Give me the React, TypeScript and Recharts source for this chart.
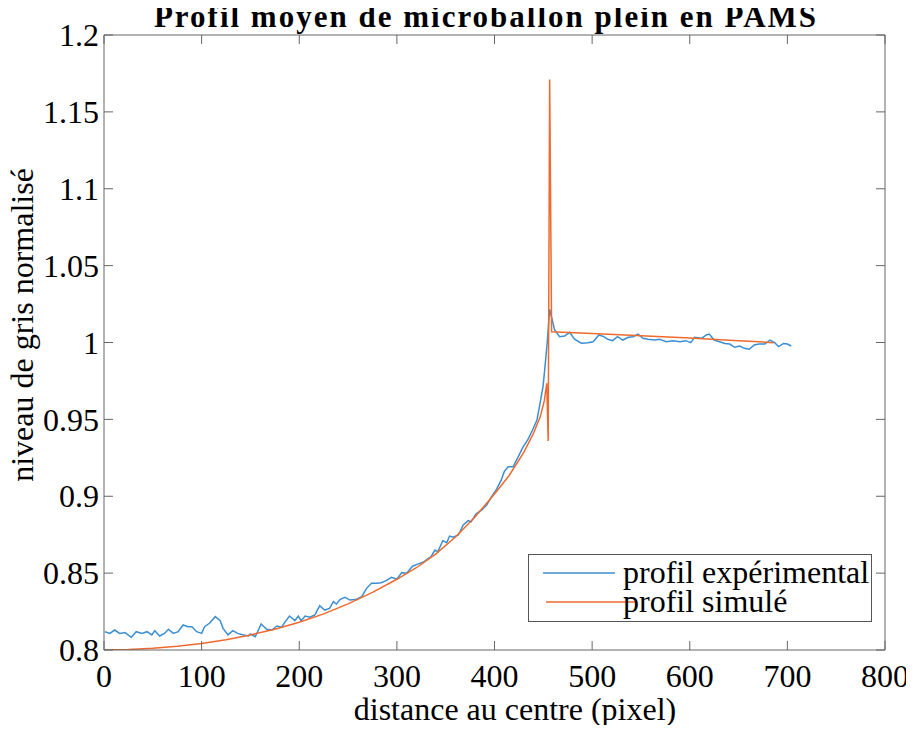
import { Line, LineChart, XAxis, YAxis } from "recharts";

const expDistance = [
  1, 6, 11, 16, 21.5, 28, 33, 39, 44, 49, 52, 57, 62, 66, 71, 76, 81, 86, 90, 95, 100, 103, 108, 114, 119, 122,
  127, 132, 137, 143, 148, 150, 155, 161, 166.5, 172, 177, 182, 185, 190, 195.5, 199, 202, 206, 211, 216, 221,
  226, 231, 235, 238, 242, 247, 252, 259, 264, 269, 274, 279, 284, 289, 294.5, 300, 305, 310, 316, 322, 328, 331,
  335, 339, 342, 347, 351, 354, 357.5, 363, 368, 373, 376, 381, 387, 392, 397, 402, 407, 410, 414, 419, 424, 429,
  434, 439, 443.5, 446, 449.7, 451.4, 454, 456.5, 461.6, 466.7, 471.8, 477, 482, 489, 495.7, 501, 507, 512, 516,
  521, 526, 531.5, 537, 542, 547, 552, 557, 564, 569, 576, 583, 590, 596, 601, 605, 612, 617, 620, 625, 630.5,
  636, 641, 646, 651, 656, 661, 666, 671, 677, 682, 687, 691, 696, 700, 704,
];
const expLevel = [
  0.8119, 0.8108, 0.813, 0.8108, 0.8113, 0.8083, 0.8119, 0.8108, 0.8119, 0.8098, 0.8126, 0.8091, 0.8108, 0.8135,
  0.8108, 0.8119, 0.8163, 0.8152, 0.8152, 0.8119, 0.8108, 0.8152, 0.8174, 0.8217, 0.8191, 0.8141, 0.8098, 0.8126,
  0.8108, 0.8098, 0.8091, 0.8104, 0.8087, 0.8169, 0.8135, 0.813, 0.8156, 0.8148, 0.8178, 0.8221, 0.8191, 0.8221,
  0.8191, 0.8221, 0.8213, 0.8228, 0.8288, 0.826, 0.8271, 0.8314, 0.8299, 0.833, 0.8343, 0.8325, 0.833, 0.8347,
  0.8401, 0.8434, 0.8434, 0.8438, 0.8451, 0.8473, 0.846, 0.8503, 0.8499, 0.8545, 0.856, 0.8575, 0.859, 0.8607,
  0.865, 0.8639, 0.8711, 0.8698, 0.8741, 0.8733, 0.8748, 0.8813, 0.8841, 0.8834, 0.8885, 0.8911, 0.8943, 0.8997,
  0.9045, 0.9106, 0.916, 0.9192, 0.9192, 0.9253, 0.9318, 0.9366, 0.9431, 0.9496, 0.9582, 0.9713, 0.982, 1.0,
  1.0216, 1.0081, 1.0038, 1.0042, 1.0066, 1.0021, 0.9995, 0.9999, 1.0005, 1.0049, 1.0038, 1.0021, 1.0012, 1.0038,
  1.0016, 1.0034, 1.0038, 1.0055, 1.0027, 1.0021, 1.0016, 1.0021, 1.0005, 1.0012, 1.0005, 1.0012, 0.9999, 1.0034,
  1.0027, 1.0049, 1.0055, 1.0016, 1.0005, 0.9994, 0.999, 0.9969, 0.9977, 0.9962, 0.9956, 0.9984, 0.999, 0.999,
  1.0016, 0.9999, 0.9973, 0.9994, 0.999, 0.9977,
];

const simDistance = [
  0, 25, 50, 75, 100, 125, 150, 175, 200, 225, 250, 275, 300, 320, 340, 360, 380, 400, 415, 430, 440, 447, 451,
  453.5, 455, 456.5, 458.5, 500, 550, 600, 650, 686,
];
const simLevel = [
  0.8, 0.8003, 0.8012, 0.8025, 0.8042, 0.8067, 0.8098, 0.8135, 0.818, 0.8235, 0.83, 0.8375, 0.846, 0.8535, 0.8625,
  0.8735, 0.8865, 0.9015, 0.9135, 0.9285, 0.941, 0.952, 0.962, 0.9735, 0.936, 1.171, 1.007, 1.0058, 1.0044, 1.003,
  1.0012, 0.9999,
];

const xTicks = [0, 100, 200, 300, 400, 500, 600, 700, 800];
const yTicks = [0.8, 0.85, 0.9, 0.95, 1, 1.05, 1.1, 1.15, 1.2];

const SERIES = [
  { name: "profil expérimental", color: "#3b8ed2" },
  { name: "profil simulé", color: "#ee6a2e" },
];

const expData = expDistance.map((x, i) => ({ x, y: expLevel[i] }));
const simData = simDistance.map((x, i) => ({ x, y: simLevel[i] }));

// the chart sits at the page origin (body margin cancelled), so these are page pixels
const W = 914;
const H = 733;
const L = 104;
const T = 35;
const R = 885;
const B = 650;
const AX = "#666";
const FONT = "'Liberation Serif', 'Times New Roman', serif";
const TICK = 9;
const txt = { fontFamily: FONT };

function fmt(v: number) {
  return String(Number(v.toFixed(2)));
}

function BottomTick(props: any) {
  const { x, payload } = props;
  return (
    <g>
      <line x1={x} x2={x} y1={B} y2={B - TICK} stroke={AX} />
      <text x={x} y={B + 37} textAnchor="middle" style={txt} fontSize={32} fill="#000">
        {payload.value}
      </text>
    </g>
  );
}

function TopTick(props: any) {
  const { x } = props;
  return <line x1={x} x2={x} y1={T} y2={T + TICK} stroke={AX} />;
}

function LeftTick(props: any) {
  const { y, payload } = props;
  return (
    <g>
      <line x1={L} x2={L + TICK} y1={y} y2={y} stroke={AX} />
      <text x={L - 5} y={y} dy="0.35em" textAnchor="end" style={txt} fontSize={32} fill="#000">
        {fmt(payload.value)}
      </text>
    </g>
  );
}

function RightTick(props: any) {
  const { y } = props;
  return <line x1={R} x2={R - TICK} y1={y} y2={y} stroke={AX} />;
}

function LegendBox() {
  return (
    <svg width={344} height={68} style={{ position: "absolute", left: 528, top: 554 }}>
      <rect x={0.5} y={0.5} width={343} height={67} fill="#fff" stroke="#555" />
      <line x1={15} x2={87} y1={19} y2={19} stroke={SERIES[0].color} strokeWidth={1.5} />
      <line x1={18} x2={108} y1={48} y2={48} stroke={SERIES[1].color} strokeWidth={1.5} />
      <text x={95} y={29} style={txt} fontSize={32} fill="#000">
        {SERIES[0].name}
      </text>
      <text x={95} y={58} style={txt} fontSize={32} fill="#000">
        {SERIES[1].name}
      </text>
    </svg>
  );
}

export default function App() {
  return (
    <div style={{ position: "relative", width: W, height: H, margin: -8 }}>
      <LineChart width={W} height={H} margin={{ top: T - 1, right: W - R - 1, bottom: H - B - 1, left: L - 1 }}>
        <XAxis
          dataKey="x"
          type="number"
          domain={[0, 800]}
          ticks={xTicks}
          allowDataOverflow
          height={1}
          tickSize={0}
          tickLine={false}
          axisLine={{ stroke: AX }}
          tick={BottomTick}
          label={{
            content: () => (
              <text x={515} y={720} textAnchor="middle" style={txt} fontSize={32} fill="#000">
                distance au centre (pixel)
              </text>
            ),
          }}
        />
        <XAxis
          xAxisId="top"
          dataKey="x"
          orientation="top"
          type="number"
          domain={[0, 800]}
          ticks={xTicks}
          allowDataOverflow
          height={1}
          tickSize={0}
          tickLine={false}
          axisLine={{ stroke: AX }}
          tick={TopTick}
          label={{
            content: () => (
              <text
                x={486}
                y={27}
                textAnchor="middle"
                style={{ ...txt, letterSpacing: 2 }}
                fontWeight="bold"
                fontSize={31}
                fill="#000"
              >
                Profil moyen de microballon plein en PAMS
              </text>
            ),
          }}
        />
        <YAxis
          type="number"
          domain={[0.8, 1.2]}
          ticks={yTicks}
          allowDataOverflow
          width={1}
          tickSize={0}
          tickLine={false}
          axisLine={{ stroke: AX }}
          tick={LeftTick}
          label={{
            content: () => (
              <text
                x={33}
                y={325}
                transform="rotate(-90 33 325)"
                textAnchor="middle"
                style={txt}
                fontSize={32}
                fill="#000"
              >
                niveau de gris normalisé
              </text>
            ),
          }}
        />
        <YAxis
          yAxisId="right"
          orientation="right"
          type="number"
          domain={[0.8, 1.2]}
          ticks={yTicks}
          allowDataOverflow
          width={1}
          tickSize={0}
          tickLine={false}
          axisLine={{ stroke: AX }}
          tick={RightTick}
        />
        <Line
          data={expData}
          dataKey="y"
          name={SERIES[0].name}
          type="linear"
          stroke={SERIES[0].color}
          strokeWidth={1.5}
          dot={false}
          isAnimationActive={false}
        />
        <Line
          data={simData}
          dataKey="y"
          name={SERIES[1].name}
          type="linear"
          stroke={SERIES[1].color}
          strokeWidth={1.5}
          dot={false}
          isAnimationActive={false}
        />
      </LineChart>
      <LegendBox />
    </div>
  );
}
